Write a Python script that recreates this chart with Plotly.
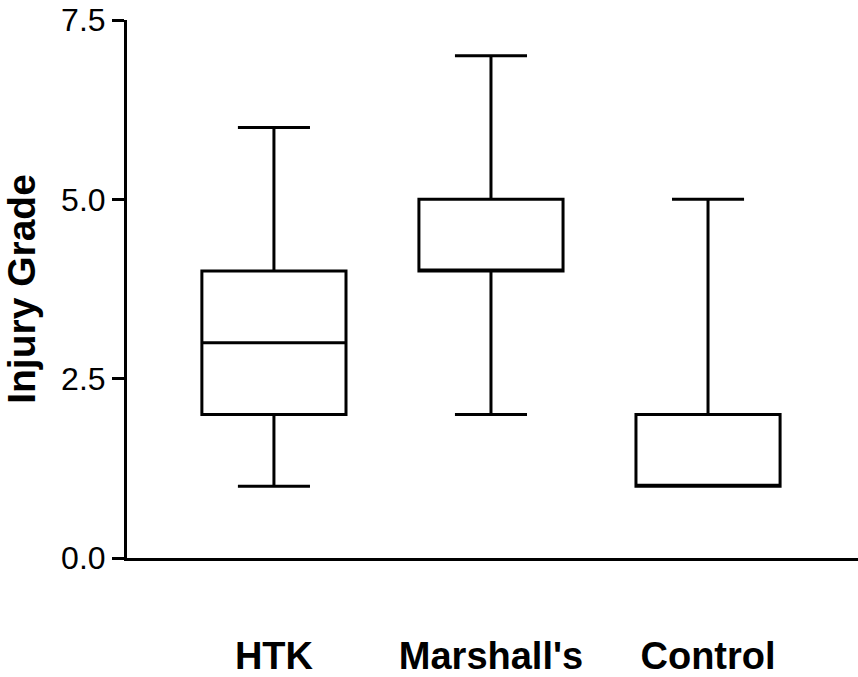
import plotly.graph_objects as go

categories = ["HTK", "Marshall's", "Control"]
q1 = [2, 4, 1]
median = [3, 4, 1]
q3 = [4, 5, 2]
lower = [1, 2, 1]
upper = [6, 7, 5]
y_ticks = [0.0, 2.5, 5.0, 7.5]
y_tick_text = ["0.0", "2.5", "5.0", "7.5"]

fig = go.Figure()
fig.add_trace(go.Box(
    x=categories, q1=q1, median=median, q3=q3,
    lowerfence=lower, upperfence=upper,
    width=0.664, whiskerwidth=0.5,
    fillcolor="white", line=dict(color="black", width=3),
    boxpoints=False, showlegend=False, hoverinfo="skip",
))

fig.update_layout(
    width=858, height=677,
    margin=dict(l=127, r=0, t=20, b=115),
    paper_bgcolor="white", plot_bgcolor="white",
    font=dict(family="Liberation Sans, Arial", color="black"),
)
fig.update_xaxes(
    type="category", range=[-0.677, 2.691],
    showline=True, linecolor="black", linewidth=3,
    ticks="", showgrid=False, zeroline=False,
    tickfont=dict(size=38, family="Liberation Sans, Arial", weight="bold"),
    ticklabelstandoff=62,
)
fig.update_yaxes(
    range=[0, 7.5], tickvals=y_ticks, ticktext=y_tick_text,
    showline=True, linecolor="black", linewidth=3,
    ticks="outside", ticklen=12, tickwidth=3, tickcolor="black",
    showgrid=False, zeroline=False,
    tickfont=dict(size=32),
    title=dict(text="Injury Grade", font=dict(size=39, weight="bold"), standoff=14),
)

fig.write_html(
    "out.html",
    config={"displayModeBar": False},
    post_script="document.body.style.margin='0';document.body.style.overflow='hidden';",
)
